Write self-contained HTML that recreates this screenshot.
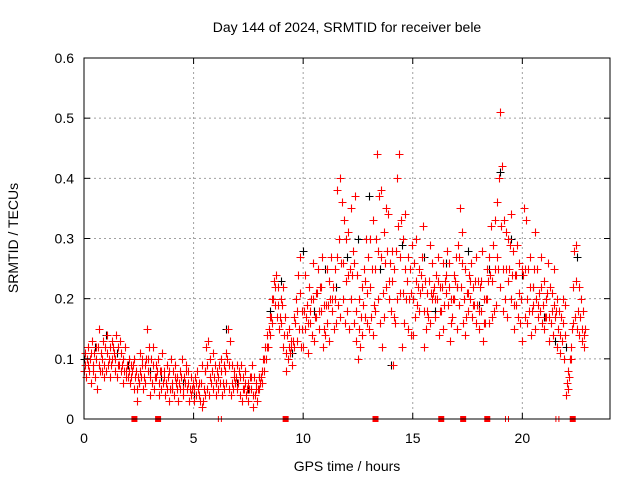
<!DOCTYPE html>
<html><head><meta charset="utf-8"><style>
body{margin:0;background:#fff}
svg{display:block;font-family:"Liberation Sans",sans-serif}
</style></head><body>
<svg id="chart" width="640" height="480">
<rect x="0" y="0" width="640" height="480" fill="#fff"/>
<g id="grid"></g>
<g id="pts"></g>
<g id="axes"></g>
<text x="347" y="32" font-size="14" text-anchor="middle">Day 144 of 2024, SRMTID for receiver bele</text>
<text x="347" y="471" font-size="14" text-anchor="middle">GPS time / hours</text>
<text x="18" y="238" font-size="14" text-anchor="middle" transform="rotate(-90 18 238)">SRMTID / TECUs</text>
</svg>
<script>
const xTicks=[0,5,10,15,20];
const yTicks=[0,0.1,0.2,0.3,0.4,0.5,0.6];
const yTickLabels=["0","0.1","0.2","0.3","0.4","0.5","0.6"];
const redLo=[.08,.07,.09,.06,.08,.07,.05,.09,.08,.07,
.08,.09,.07,.10,.08,.07,.09,.08,.06,.07,
.07,.06,.08,.05,.03,.06,.07,.05,.06,.08,
.04,.06,.05,.07,.04,.05,.06,.04,.05,.03,
.05,.04,.06,.03,.05,.04,.06,.05,.03,.04,
.03,.04,.05,.03,.02,.04,.05,.04,.06,.05,
.04,.05,.06,.04,.05,.06,.05,.04,.05,.06,
.05,.04,.03,.05,.04,.03,.05,.02,.04,.03,
.05,.06,.08,.10,.12,.14,.16,.19,.17,.15,
.16,.12,.08,.10,.11,.09,.12,.13,.15,.12,
.12,.15,.11,.16,.14,.13,.17,.15,.18,.12,
.14,.16,.13,.18,.15,.16,.19,.17,.20,.16,
.18,.15,.20,.16,.13,.10,.12,.14,.17,.16,
.15,.17,.14,.18,.20,.16,.12,.17,.22,.20,
.18,.09,.16,.20,.21,.12,.16,.20,.15,.14,
.14,.17,.19,.18,.22,.12,.15,.17,.16,.20,
.17,.20,.14,.18,.15,.21,.19,.13,.17,.20,
.15,.19,.22,.16,.14,.18,.20,.17,.19,.16,
.15,.18,.13,.16,.20,.16,.17,.18,.19,.25,
.22,.18,.20,.17,.25,.20,.15,.19,.17,.16,
.13,.17,.16,.18,.14,.19,.15,.17,.18,.16,
.15,.17,.13,.16,.14,.17,.12,.11,.13,.10,
.04,.05,.10,.16,.17,.15,.14,.13,.12];
const redMid=[.09,.10,.08,.11,.09,.10,.12,.08,.10,.09,
.11,.10,.09,.12,.10,.09,.13,.09,.08,.08,
.08,.07,.09,.07,.05,.08,.09,.07,.10,.10,
.07,.09,.07,.08,.06,.08,.07,.06,.07,.05,
.06,.07,.05,.06,.07,.05,.08,.06,.05,.05,
.05,.06,.04,.06,.03,.08,.09,.07,.08,.07,
.06,.07,.08,.06,.08,.10,.09,.06,.07,.07,
.06,.07,.05,.06,.05,.05,.07,.04,.05,.05,
.06,.08,.10,.12,.15,.17,.20,.22,.19,.17,
.19,.14,.11,.12,.12,.13,.16,.18,.21,.15,
.18,.17,.16,.18,.20,.17,.21,.18,.22,.15,
.19,.19,.20,.20,.20,.27,.30,.26,.26,.23,
.24,.25,.24,.26,.18,.15,.17,.19,.23,.21,
.22,.25,.19,.30,.28,.27,.21,.26,.28,.23,
.23,.17,.28,.32,.27,.21,.25,.23,.20,.21,
.20,.23,.22,.21,.27,.18,.18,.23,.21,.21,
.20,.23,.18,.22,.19,.24,.22,.16,.20,.23,
.22,.27,.26,.20,.17,.21,.23,.19,.23,.19,
.18,.23,.16,.20,.23,.24,.23,.25,.27,.40,
.32,.25,.25,.23,.29,.24,.19,.24,.21,.20,
.24,.25,.20,.22,.18,.25,.20,.19,.22,.19,
.17,.21,.17,.18,.19,.18,.15,.14,.16,.14,
.06,.07,.12,.22,.23,.18,.17,.15,.14];
const redHi=[.11,.12,.10,.13,.11,.12,.15,.11,.13,.12,
.14,.12,.13,.11,.14,.12,.11,.10,.12,.09,
.10,.09,.10,.08,.07,.11,.10,.09,.15,.12,
.10,.12,.09,.10,.08,.11,.08,.09,.08,.10,
.08,.09,.07,.08,.10,.07,.09,.08,.07,.06,
.07,.08,.06,.09,.05,.12,.13,.10,.11,.09,
.08,.09,.10,.09,.11,.15,.13,.09,.08,.09,
.08,.09,.07,.08,.06,.07,.09,.07,.06,.07,
.07,.10,.12,.14,.17,.20,.23,.24,.22,.20,
.22,.17,.14,.15,.13,.17,.20,.24,.27,.18,
.24,.19,.22,.20,.26,.21,.25,.22,.27,.19,
.25,.23,.27,.22,.25,.38,.40,.36,.33,.30,
.31,.35,.28,.37,.24,.20,.22,.25,.30,.27,
.30,.33,.25,.44,.37,.38,.31,.35,.34,.26,
.28,.25,.40,.44,.33,.30,.34,.27,.25,.29,
.26,.30,.25,.24,.32,.23,.21,.29,.26,.22,
.24,.27,.22,.26,.23,.28,.26,.20,.24,.27,
.29,.35,.31,.25,.21,.24,.26,.22,.27,.23,
.22,.28,.20,.25,.27,.32,.29,.33,.36,.51,
.42,.33,.31,.30,.34,.28,.24,.29,.26,.25,
.35,.33,.25,.27,.22,.31,.25,.21,.27,.23,
.20,.26,.22,.21,.25,.20,.18,.17,.20,.19,
.08,.10,.15,.28,.29,.22,.20,.18,.15];
const blackVals=[.10,.12,.14,.11,.09,.06,.08,.07,.05,.06,.04,.08,.06,.15,.06,.05,.07,.18,.23,.11,.28,.18,.25,.22,.27,.30,.37,.25,.09,.29,.20,.27,.18,.26,.22,.28,.19,.25,.41,.30,.24,.22,.17,.13,.12,.27];
const redMarkerHours=[2.3,3.38,9.2,13.3,16.3,17.3,18.4,22.3];
const thinMarkerHours=[6.2,19.3,21.6];
const X0=84,X1=610,Y0=419,Y1=58,XMAX=24,YMAX=0.6;
const sx=v=>X0+(X1-X0)*v/XMAX;
const sy=v=>Y0-(Y0-Y1)*v/YMAX;
const NS="http://www.w3.org/2000/svg";
function mk(tag,attrs,parent){const e=document.createElementNS(NS,tag);for(const k in attrs)e.setAttribute(k,attrs[k]);parent.appendChild(e);return e;}
const grid=document.getElementById('grid'),axes=document.getElementById('axes'),pts=document.getElementById('pts');
yTicks.forEach((v,i)=>{
  if(i>0&&i<yTicks.length-1){const g=mk('line',{x1:X0,x2:X1,y1:sy(v),y2:sy(v),stroke:'#a0a0a0','stroke-dasharray':'2,3'},grid);
  
  }
  mk('line',{x1:X0,x2:X0+6,y1:sy(v),y2:sy(v),stroke:'#000'},axes);
  mk('line',{x1:X1,x2:X1-6,y1:sy(v),y2:sy(v),stroke:'#000'},axes);
  const t=mk('text',{x:X0-10,y:sy(v)+5,'font-size':14,'text-anchor':'end'},axes);t.textContent=yTickLabels[i];
  
  
});
xTicks.forEach(v=>{
  if(v>0){const g=mk('line',{x1:sx(v),x2:sx(v),y1:Y0,y2:Y1,stroke:'#a0a0a0','stroke-dasharray':'2,3'},grid);
  
  }
  mk('line',{x1:sx(v),x2:sx(v),y1:Y0,y2:Y0-6,stroke:'#000'},axes);
  mk('line',{x1:sx(v),x2:sx(v),y1:Y1,y2:Y1+6,stroke:'#000'},axes);
  const t=mk('text',{x:sx(v),y:Y0+24,'font-size':14,'text-anchor':'middle'},axes);t.textContent=String(v);
  
  
});
const frame=mk('rect',{x:X0,y:Y1,width:X1-X0,height:Y0-Y1,fill:'none',stroke:'#000'},axes);


function plus(x,y,c){x=Math.round(x)+0.5;y=Math.round(y)+0.5;return mk('path',{d:`M${x-4},${y}h8M${x},${y-4}v8`,stroke:c,'stroke-width':1.1,fill:'none'},pts);}
blackVals.forEach((v,i)=>{const p=plus(sx(i*0.5),sy(v),'#000');
  
  });
redLo.forEach((v,i)=>{const p=plus(sx(i*0.1),sy(v),'#f00');
  
  });
redMid.forEach((v,i)=>{const p=plus(sx(i*0.1+0.033),sy(v),'#f00');
  
  });
redHi.forEach((v,i)=>{const p=plus(sx(i*0.1+0.066),sy(v),'#f00');
  
  });
redMarkerHours.forEach(h=>{const r=mk('rect',{x:sx(h)-3,y:Y0-3,width:6,height:6,fill:'#f00'},pts);
  
  });
thinMarkerHours.forEach(h=>{const r=mk('path',{d:`M${sx(h)-1.5},${Y0-3}v6M${sx(h)+1.5},${Y0-3}v6`,stroke:'#f00'},pts);
  
  });
</script>
</body></html>
